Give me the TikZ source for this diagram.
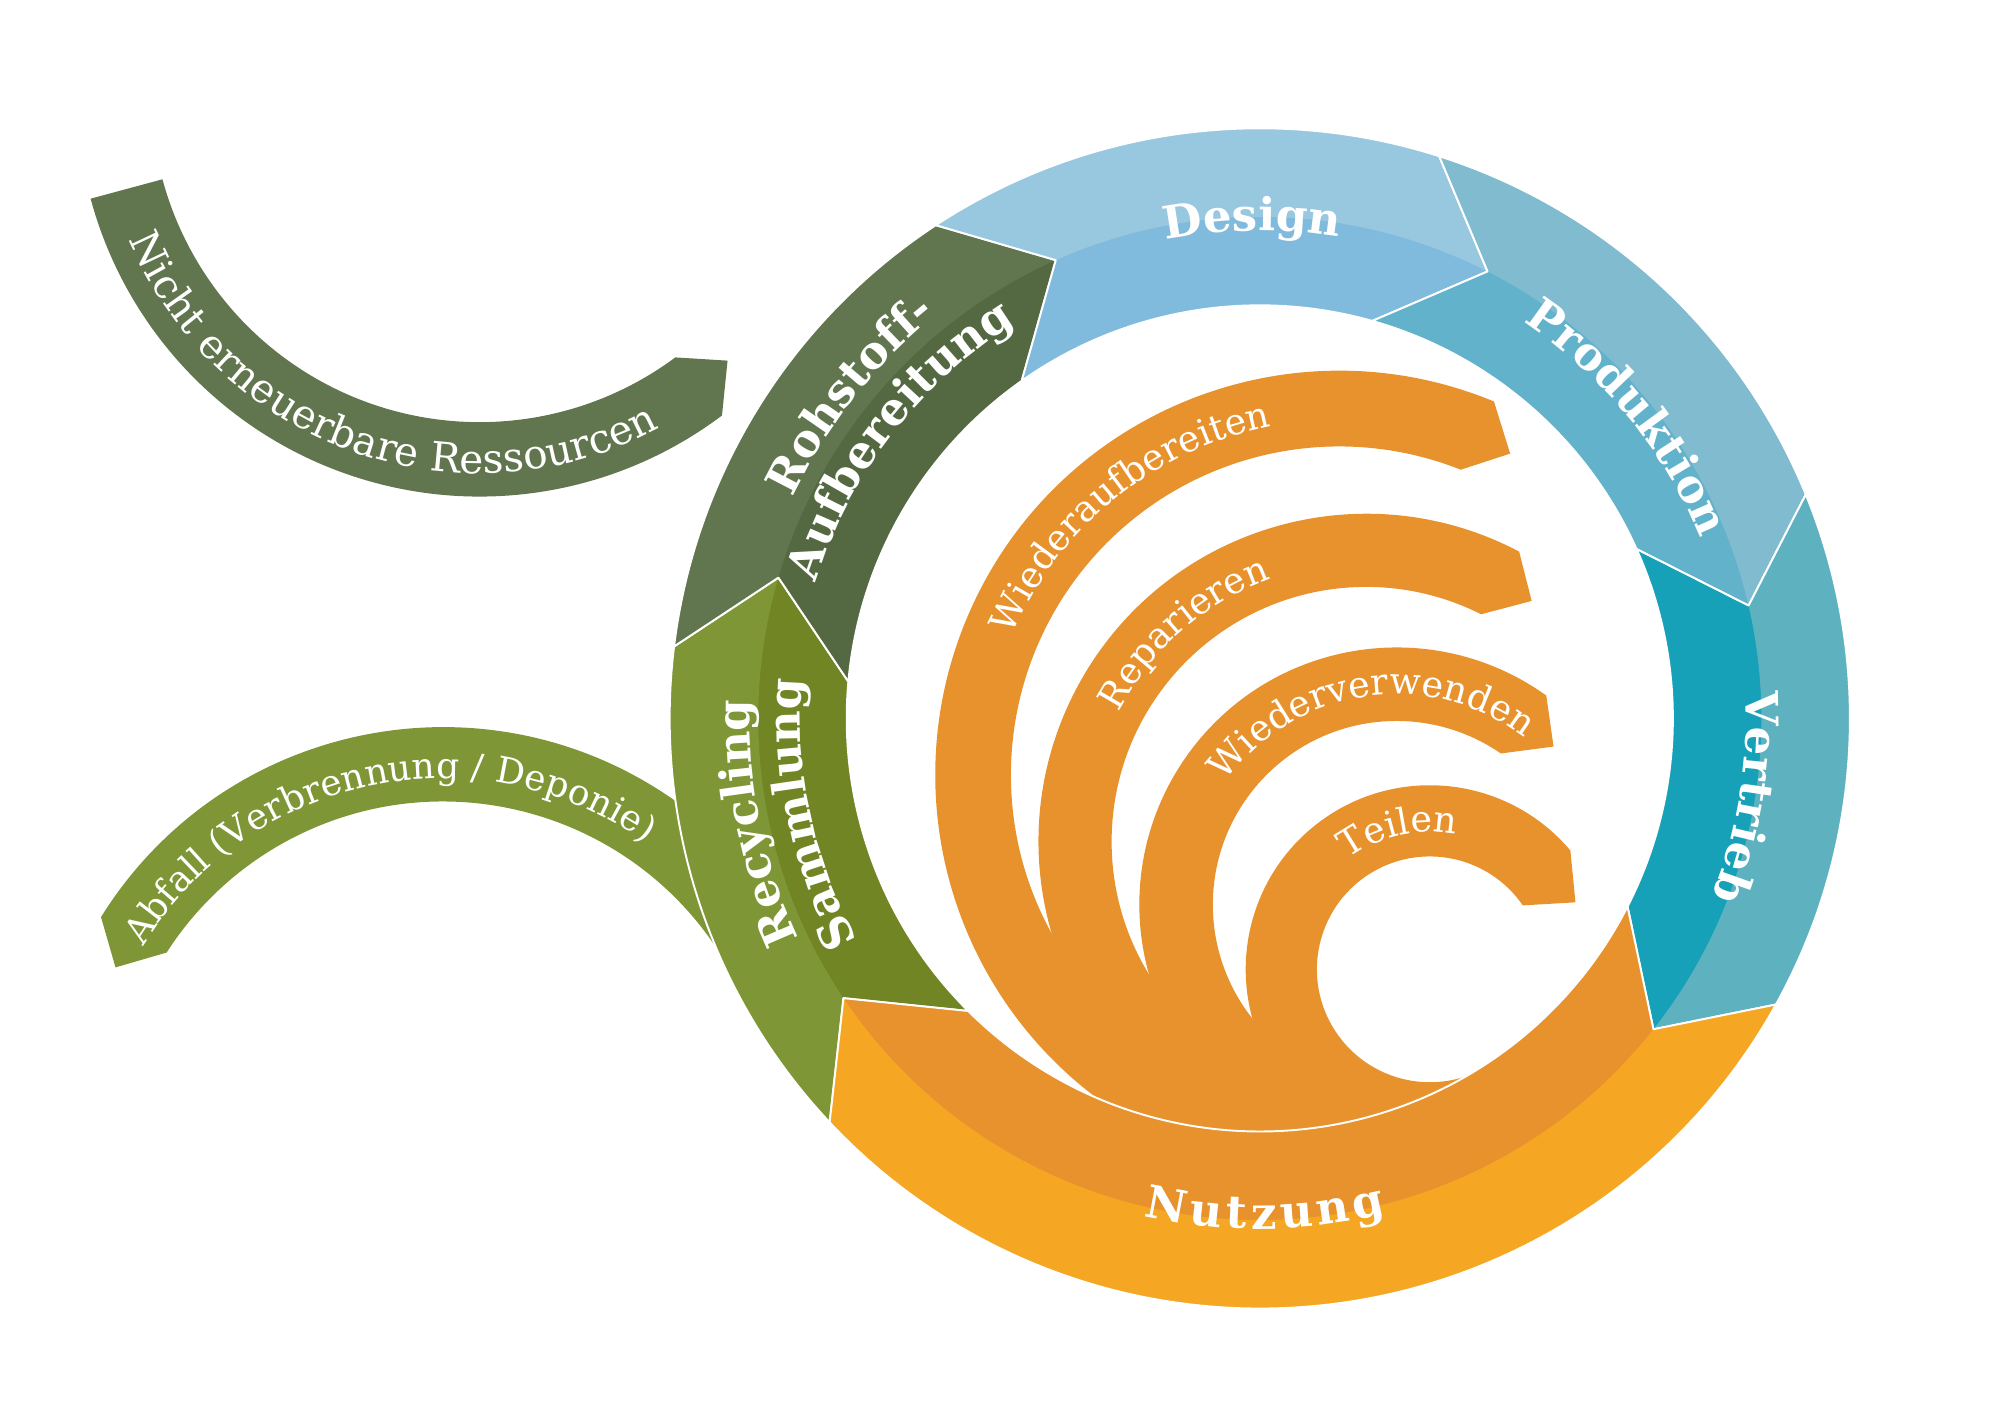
\documentclass[tikz,border=0pt]{standalone}
\usepackage{fontspec}
\setmainfont{DejaVu Serif}
\usetikzlibrary{decorations.text}

\definecolor{rohA}{HTML}{61754F}
\definecolor{rohB}{HTML}{546842}
\definecolor{recA}{HTML}{7F9636}
\definecolor{recB}{HTML}{718525}
\definecolor{desA}{HTML}{98C7E0}
\definecolor{desB}{HTML}{80BBDE}
\definecolor{proA}{HTML}{80BBCF}
\definecolor{proB}{HTML}{63B2CC}
\definecolor{verA}{HTML}{5EB2C0}
\definecolor{verB}{HTML}{16A1B8}
\definecolor{nutA}{HTML}{F5A623}
\definecolor{nutB}{HTML}{E8922E}

\newcommand{\biglab}{\fontsize{10}{12}\selectfont\bfseries\color{white}}
\newcommand{\smlab}{\fontsize{8.1}{10}\selectfont\color{white}}
\newcommand{\sidelab}[1]{\fontsize{#1}{10}\selectfont\color{white}}

\begin{document}
\begin{tikzpicture}[x=0.1mm,y=0.1mm,
    arctext/.style={decorate,decoration={text along path,text align=center,text={#1}}}]
				\useasboundingbox (0,0) rectangle (1566,1105);
				\coordinate (ring) at (982,545);
				\coordinate (nicht) at (373.8,1031.9);
				\coordinate (abfall) at (345.3,224.2);
				% Nicht erneuerbare Ressourcen
				\begin{scope}[shift={(nicht)}]
					\fill[rohA] (195.1:314) arc[start angle=195.1,end angle=307,radius=314] -- (312.9:284) -- (306.6:256) arc[start angle=306.6,end angle=195.1,radius=256] -- cycle;
					\path[arctext={|\sidelab{9}|Nicht erneuerbare Ressourcen}] (190:296) arc[start angle=190,end angle=311,radius=296];
				\end{scope}
				% Abfall
				\begin{scope}[shift={(abfall)}]
					\fill[recA] (148.1:314) arc[start angle=148.1,end angle=28,radius=314] -- (28:256) arc[start angle=28,end angle=147.3,radius=256] -- (153.6:285) -- cycle;
					\path[arctext={|\sidelab{8}|Abfall (Verbrennung / Deponie)}] (161.6:274) arc[start angle=161.6,end angle=41.6,radius=274];
				\end{scope}
				% spiral
				\foreach \cx/\cy/\ro/\ri/\ao/\ai/\at/\rt/\as in {1044/501/315/256/67.5/68.3/62/283.6/270,1065/449/255.5/198.5/62.2/63.2/55.5/227.6/270,1088.6/399.8/200.5/143.2/54.4/55.4/45.2/173.7/270,1114.5/349.4/143.5/88/40.2/34.5/24.7/125/300}
					\fill[nutB,shift={(\cx,\cy)}] (\ao:\ro) arc[start angle=\ao,end angle=\as,radius=\ro] -- (\as:\ri) arc[start angle=\as,end angle=\ai,radius=\ri] -- (\at:\rt) -- cycle;
				\path[arctext={|\smlab|Wiederaufbereiten},shift={(1044,501)}] (179:277) arc[start angle=179,end angle=79,radius=277];
				\path[arctext={|\smlab|Reparieren},shift={(1065,449)}] (191.2:218) arc[start angle=191.2,end angle=71.2,radius=218];
				\path[arctext={|\smlab|Wiederverwenden},shift={(1088.6,399.8)}] (168.5:164) arc[start angle=168.5,end angle=28.5,radius=164];
				\path[arctext={|\smlab|Teilen},shift={(1114.5,349.4)}] (162.8:107) arc[start angle=162.8,end angle=42.8,radius=107];
				% ring
				\begin{scope}[shift={(ring)}]
					\foreach \a/\b/\cl/\cd in {223.2/173/recA/recB,173/123.3/rohA/rohB,123.3/72.3/desA/desB,72.3/22.3/proA/proB,22.3/-29/verA/verB,331/223.2/nutA/nutB}{
						\fill[\cd] (\a:460) arc[start angle=\a,end angle=\b,radius=460] -- (\b-9.3:391) -- (\b+1.9:322) arc[start angle=\b+1.9,end angle=\a+1.9,radius=322] -- (\a-9.3:391) -- cycle;
						\fill[\cl] (\a:460) arc[start angle=\a,end angle=\b,radius=460] -- (\b-9.3:391) arc[start angle=\b-9.3,end angle=\a-9.3,radius=391] -- cycle;
						\draw[white,line width=0.15mm,line join=round] (\a:460) arc[start angle=\a,end angle=\b,radius=460] -- (\b-9.3:391) -- (\b+1.9:322) arc[start angle=\b+1.9,end angle=\a+1.9,radius=322] -- (\a-9.3:391) -- cycle;
					}
					\path[arctext={|\biglab|Design}] (130.9:380) arc[start angle=130.9,end angle=50.9,radius=380];
					\path[arctext={|\biglab|Produktion}] (79.3:371) arc[start angle=79.3,end angle=-0.7,radius=371];
					\path[arctext={|\biglab|Vertrieb}] (30.8:379) arc[start angle=30.8,end angle=-49.2,radius=379];
					\path[arctext={|\biglab|N{\kern1pt}u{\kern1pt}t{\kern1pt}z{\kern1pt}u{\kern1pt}n{\kern1pt}g}] (230.6:398) arc[start angle=230.6,end angle=310.6,radius=398];
					\path[arctext={|\biglab|Rohstoff-}] (181.7:403) arc[start angle=181.7,end angle=101.7,radius=403];
					\path[arctext={|\biglab|Aufbereitung}] (182.3:362) arc[start angle=182.3,end angle=102.3,radius=362];
					\path[arctext={|\biglab|Recycling}] (231.7:398) arc[start angle=231.7,end angle=151.7,radius=398];
					\path[arctext={|\biglab|Sammlung}] (232:358) arc[start angle=232,end angle=152,radius=358];
				\end{scope}
			\end{tikzpicture}
\end{document}
